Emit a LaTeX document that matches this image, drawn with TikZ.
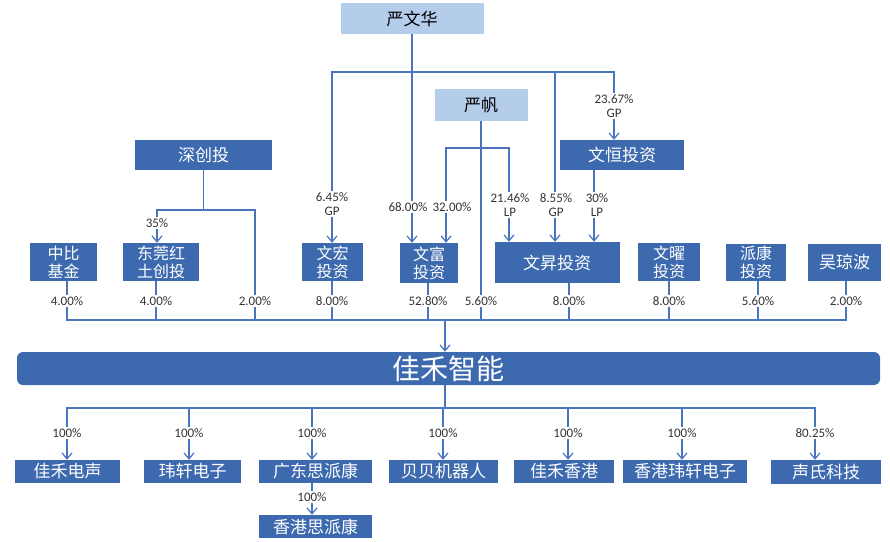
\documentclass[tikz,border=0pt]{standalone}
\usepackage{fontspec}
\setmainfont{Carlito}
\newfontfamily\cjk{Noto Sans CJK SC}
\usepackage{tikz}
\usetikzlibrary{arrows.meta,positioning}
\definecolor{jhblue}{HTML}{3D6AAF}
\definecolor{jhlight}{HTML}{B4CDEA}
\definecolor{jhline}{HTML}{4A75BE}
\definecolor{jhtext}{HTML}{333333}

\begin{document}
\begin{tikzpicture}[x=1pt,y=-1pt,
  dbox/.style={fill=jhblue,text=white,align=center,inner sep=0pt,font=\cjk\fontsize{17}{18.5}\selectfont},
  twoline/.style={font=\cjk\fontsize{16}{18}\selectfont},
  lbox/.style={fill=jhlight,text=black,inner sep=0pt,font=\cjk\fontsize{17}{18.5}\selectfont},
  pct/.style={text=jhtext,align=center,inner sep=1pt,font=\fontsize{13}{14}\selectfont},
  link/.style={draw=jhline,line width=1.2pt},
  arr/.style={link,-{Straight Barb[length=6pt,width=10pt]}}]
\useasboundingbox (0,0) rectangle (890,541);
% owners on top
\node[lbox,minimum width=143pt,minimum height=31pt] (ywh) at (412,18.5) {严文华};
\node[lbox,minimum width=93pt,minimum height=32pt] (yf) at (481,105) {严帆};
\node[dbox,minimum width=137pt,minimum height=30pt] (sct) at (203.5,155) {深创投};
\node[dbox,minimum width=124pt,minimum height=30pt] (wh) at (622,155) {文恒投资};
% shareholders
\node[dbox,twoline,minimum width=67pt,minimum height=38pt] (zb) at (63.5,262) {中比\\基金};
\node[dbox,twoline,minimum width=76pt,minimum height=38pt] (dg) at (161,262) {东莞红\\土创投};
\node[dbox,twoline,minimum width=61pt,minimum height=38pt] (whong) at (332.5,262) {文宏\\投资};
\node[dbox,twoline,minimum width=58pt,minimum height=40pt] (wf) at (429,263) {文富\\投资};
\node[dbox,minimum width=125pt,minimum height=41pt] (ws) at (557,262.5) {文昇投资};
\node[dbox,twoline,minimum width=62pt,minimum height=38pt] (wy) at (669,262) {文曜\\投资};
\node[dbox,twoline,minimum width=60pt,minimum height=37pt] (pk) at (756,262) {派康\\投资};
\node[dbox,minimum width=73pt,minimum height=37pt] (wqb) at (844.5,262) {吴琼波};
\node[dbox,rounded corners=6pt,minimum width=863pt,minimum height=33pt,font=\cjk\fontsize{28}{30}\selectfont] (jh) at (448.5,368.5) {佳禾智能};
% ratios above the shareholders
\node[pct] (l2367) at (614,106) {23.67\%\\GP};
\node[pct] (l645) at (332,204) {6.45\%\\GP};
\node[pct] (l68) at (408,207) {68.00\%};
\node[pct] (l32) at (452,207) {32.00\%};
\node[pct] (l2146) at (510,205) {21.46\%\\LP};
\node[pct] (l855) at (556,205) {8.55\%\\GP};
\node[pct] (l30) at (597,205) {30\%\\LP};
\node[pct] (l35) at (157,223) {35\%};
% ratios in 佳禾智能
\node[pct] (pzb) at (67,301) {4.00\%};
\node[pct] (pdg) at (156,301) {4.00\%};
\node[pct] (psct) at (255,301) {2.00\%};
\node[pct] (pwhong) at (332,301) {8.00\%};
\node[pct] (pwf) at (428,301) {52.80\%};
\node[pct] (pyf) at (481,301) {5.60\%};
\node[pct] (pws) at (569,301) {8.00\%};
\node[pct] (pwy) at (669,301) {8.00\%};
\node[pct] (ppk) at (758,301) {5.60\%};
\node[pct] (pwqb) at (846,301) {2.00\%};
% subsidiaries
\node[dbox,minimum width=105pt,minimum height=23pt] (s1) at (67.5,471.5) {佳禾电声};
\node[dbox,minimum width=97pt,minimum height=23pt] (s2) at (192.5,471.5) {玮轩电子};
\node[dbox,minimum width=113pt,minimum height=23pt] (s3) at (315.5,471.5) {广东思派康};
\node[dbox,minimum width=109pt,minimum height=23pt] (s4) at (443.5,471.5) {贝贝机器人};
\node[dbox,minimum width=100pt,minimum height=23pt] (s5) at (564,471.5) {佳禾香港};
\node[dbox,minimum width=124pt,minimum height=23pt] (s6) at (685,471.5) {香港玮轩电子};
\node[dbox,minimum width=110pt,minimum height=24pt] (s7) at (826,472) {声氏科技};
\node[dbox,minimum width=113pt,minimum height=23pt] (s8) at (315.5,526.5) {香港思派康};
\node[pct] (q1) at (67,433) {100\%};
\node[pct] (q2) at (189,433) {100\%};
\node[pct] (q3) at (312,433) {100\%};
\node[pct] (q4) at (443,433) {100\%};
\node[pct] (q5) at (568,433) {100\%};
\node[pct] (q6) at (682,433) {100\%};
\node[pct] (q7) at (815,433) {80.25\%};
\node[pct] (q8) at (312,497) {100\%};
% 严文华
\coordinate (tR) at (614,72); \coordinate (t855) at (555,72);
\draw[link] (l645.north) |- (tR) -- (l2367.north); \draw[link] (t855) -- (t855 |- l855.north);
\draw[link] (ywh.south) -- (ywh.south |- l68.north);
\draw[arr] (l645.south) -- (l645.south |- whong.north); \draw[arr] (ywh.south |- l68.south) -- (ywh.south |- wf.north);
\draw[arr] (t855 |- l855.south) -- (t855 |- ws.north); \draw[arr] (l2367.south) -- (l2367.south |- wh.north);
% 严帆 and 文恒投资
\coordinate (bL) at (446,148); \coordinate (bR) at (509,148); \coordinate (c30) at (594,170);
\draw[link] (bL |- l32.north) -- (bL) -- (bR) -- (bR |- l2146.north); \draw[link] (yf.south) -- (yf.south |- pyf.north);
\draw[arr] (bL |- l32.south) -- (bL |- wf.north); \draw[arr] (bR |- l2146.south) -- (bR |- ws.north);
\draw[link] (c30) -- (c30 |- l30.north); \draw[arr] (c30 |- l30.south) -- (c30 |- ws.north);
% 深创投
\coordinate (sL) at (157,210); \coordinate (sR) at (255,210);
\draw[link] (sct.south) -- (sct.south |- sL); \draw[link] (sL |- l35.north) -- (sL) -- (sR) -- (psct.north);
\draw[arr] (l35.south) -- (l35.south |- dg.north);
% into 佳禾智能
\coordinate (busL) at (67,320); \coordinate (busR) at (846,320); \coordinate (jtop) at (445,320);
\draw[link] (zb.south -| pzb) -- (pzb.north); \draw[link] (dg.south -| pdg) -- (pdg.north);
\draw[link] (whong.south -| pwhong) -- (pwhong.north); \draw[link] (wf.south -| pwf) -- (pwf.north);
\draw[link] (ws.south -| pws) -- (pws.north); \draw[link] (wy.south -| pwy) -- (pwy.north);
\draw[link] (pk.south -| ppk) -- (ppk.north); \draw[link] (wqb.south -| pwqb) -- (pwqb.north);
\draw[link] (pzb.south) -- (busL) -- (busR) -- (pwqb.south);
\draw[link] (pdg.south) -- (pdg.south |- busL); \draw[link] (psct.south) -- (psct.south |- busL);
\draw[link] (pwhong.south) -- (pwhong.south |- busL); \draw[link] (pwf.south) -- (pwf.south |- busL);
\draw[link] (pyf.south) -- (pyf.south |- busL); \draw[link] (pws.south) -- (pws.south |- busL);
\draw[link] (pwy.south) -- (pwy.south |- busL); \draw[link] (ppk.south) -- (ppk.south |- busL);
\draw[arr] (jtop) -- (jtop |- jh.north);
% subsidiaries
\coordinate (sbL) at (67,408); \coordinate (sbR) at (815,408);
\draw[link] (jtop |- jh.south) -- (jtop |- sbL); \draw[link] (q1.north) -- (sbL) -- (sbR) -- (q7.north);
\draw[link] (q2.north) -- (q2.north |- sbL); \draw[link] (q3.north) -- (q3.north |- sbL);
\draw[link] (q4.north) -- (q4.north |- sbL); \draw[link] (q5.north) -- (q5.north |- sbL);
\draw[link] (q6.north) -- (q6.north |- sbL);
\draw[arr] (q1.south) -- (q1.south |- s1.north); \draw[arr] (q2.south) -- (q2.south |- s2.north);
\draw[arr] (q3.south) -- (q3.south |- s3.north); \draw[arr] (q4.south) -- (q4.south |- s4.north);
\draw[arr] (q5.south) -- (q5.south |- s5.north); \draw[arr] (q6.south) -- (q6.south |- s6.north);
\draw[arr] (q7.south) -- (q7.south |- s7.north);
\draw[link] (s3.south -| q8) -- (q8.north); \draw[arr] (q8.south) -- (q8.south |- s8.north);
\end{tikzpicture}
\end{document}
